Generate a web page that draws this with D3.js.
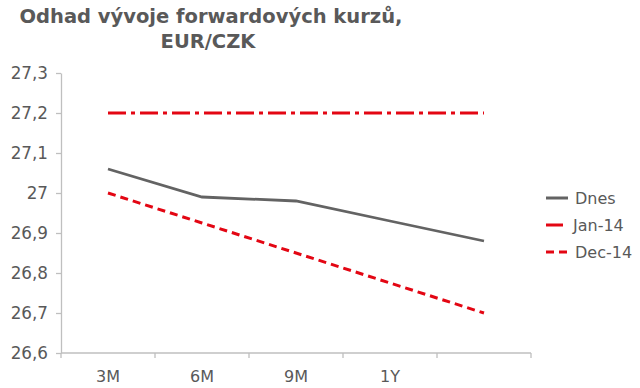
<!DOCTYPE html>
<html lang="cs">
<head>
<meta charset="UTF-8">
<title>Odhad vývoje forwardových kurzů</title>
<script src="https://d3js.org/d3.v7.min.js"></script>
<style>
  body { margin: 0; background: #fff; }
  svg text { font-family: "DejaVu Sans", Verdana, sans-serif; fill: #595959; }
  .axis path, .axis line { stroke: #bfbfbf; stroke-width: 1.3px; }
  .axis text { font-size: 16px; }
  .yaxis text { font-size: 16.8px; }
</style>
</head>
<body>
<svg width="640" height="388"></svg>
<script>
// categories on the x axis (last one has no label in the source)
var categories = ["3M", "6M", "9M", "1Y", "2Y"];
var catLabels = ["3M", "6M", "9M", "1Y", ""];
var yTicks = [26.6, 26.7, 26.8, 26.9, 27.0, 27.1, 27.2, 27.3];

var dnes  = [27.06, 26.99, 26.98, 26.93, 26.88];
var jan14 = [27.2, 27.2, 27.2, 27.2, 27.2];
var dec14 = [27.0, 26.925, 26.85, 26.775, 26.70];

var seriesNames = ["Dnes", "Jan-14", "Dec-14"];

var svg = d3.select("svg");

// plot area (avoid "top" - it's a window property)
var plotL = 61, plotR = 531, plotT = 73, plotB = 353;

var x = d3.scaleBand().domain(categories).range([plotL, plotR]);
var y = d3.scaleLinear().domain([26.6, 27.3]).range([plotB, plotT]);

var fmt = function (d) { return String(+d.toFixed(1)).replace(".", ","); };

// title
var title = svg.append("g");
title.append("text").attr("x", 211).attr("y", 23).attr("text-anchor", "middle")
    .style("font-size", "19.5px").style("font-weight", "bold")
    .text("Odhad vývoje forwardových kurzů,");
title.append("text").attr("x", 208).attr("y", 48).attr("text-anchor", "middle")
    .style("font-size", "19.5px").style("font-weight", "bold")
    .text("EUR/CZK");

// y axis
var yAxis = d3.axisLeft(y).tickValues(yTicks).tickFormat(fmt).tickSize(5).tickPadding(8).tickSizeOuter(0);
svg.append("g").attr("class", "axis yaxis")
    .attr("transform", "translate(" + plotL + ",0)")
    .call(yAxis);

// x axis: line + ticks at band edges + centered labels
var xg = svg.append("g").attr("class", "axis");
xg.append("line").attr("x1", plotL).attr("x2", plotR).attr("y1", plotB).attr("y2", plotB);
var edges = categories.map(function (c) { return x(c); }).concat([plotR]);
xg.selectAll(".edge").data(edges).enter().append("line")
    .attr("x1", function (d) { return d; }).attr("x2", function (d) { return d; })
    .attr("y1", plotB).attr("y2", plotB + 5);
xg.selectAll(".lbl").data(categories).enter().append("text")
    .attr("x", function (d) { return x(d) + x.bandwidth() / 2; })
    .attr("y", plotB + 29)
    .attr("text-anchor", "middle")
    .text(function (d, i) { return catLabels[i]; });

// lines
var line = d3.line()
    .x(function (d, i) { return x(categories[i]) + x.bandwidth() / 2; })
    .y(function (d) { return y(d); });

var styles = [
    { data: dnes, color: "#636363", dash: null, width: 2.8 },
    { data: jan14, color: "#e30613", dash: "18,5,4,5", width: 3 },
    { data: dec14, color: "#e30613", dash: "8,5", width: 3 }
];

styles.forEach(function (s) {
    svg.append("path")
        .datum(s.data)
        .attr("d", line)
        .attr("fill", "none")
        .attr("stroke", s.color)
        .attr("stroke-width", s.width)
        .attr("stroke-dasharray", s.dash);
});

// legend
var legendDash = [null, null, "8,5"];
var lg = svg.selectAll(".legend").data(seriesNames).enter().append("g")
    .attr("transform", function (d, i) { return "translate(546," + (198 + i * 27) + ")"; });
lg.append("line")
    .attr("x1", 0)
    .attr("x2", function (d, i) { return i === 1 ? 17 : 22; })
    .attr("stroke", function (d, i) { return styles[i].color; })
    .attr("stroke-width", 3)
    .attr("stroke-dasharray", function (d, i) { return legendDash[i]; });
lg.append("text")
    .attr("x", function (d, i) { return i === 1 ? 27 : 29; })
    .attr("y", 6)
    .style("font-size", "16px")
    .text(function (d) { return d; });
</script>
</body>
</html>
